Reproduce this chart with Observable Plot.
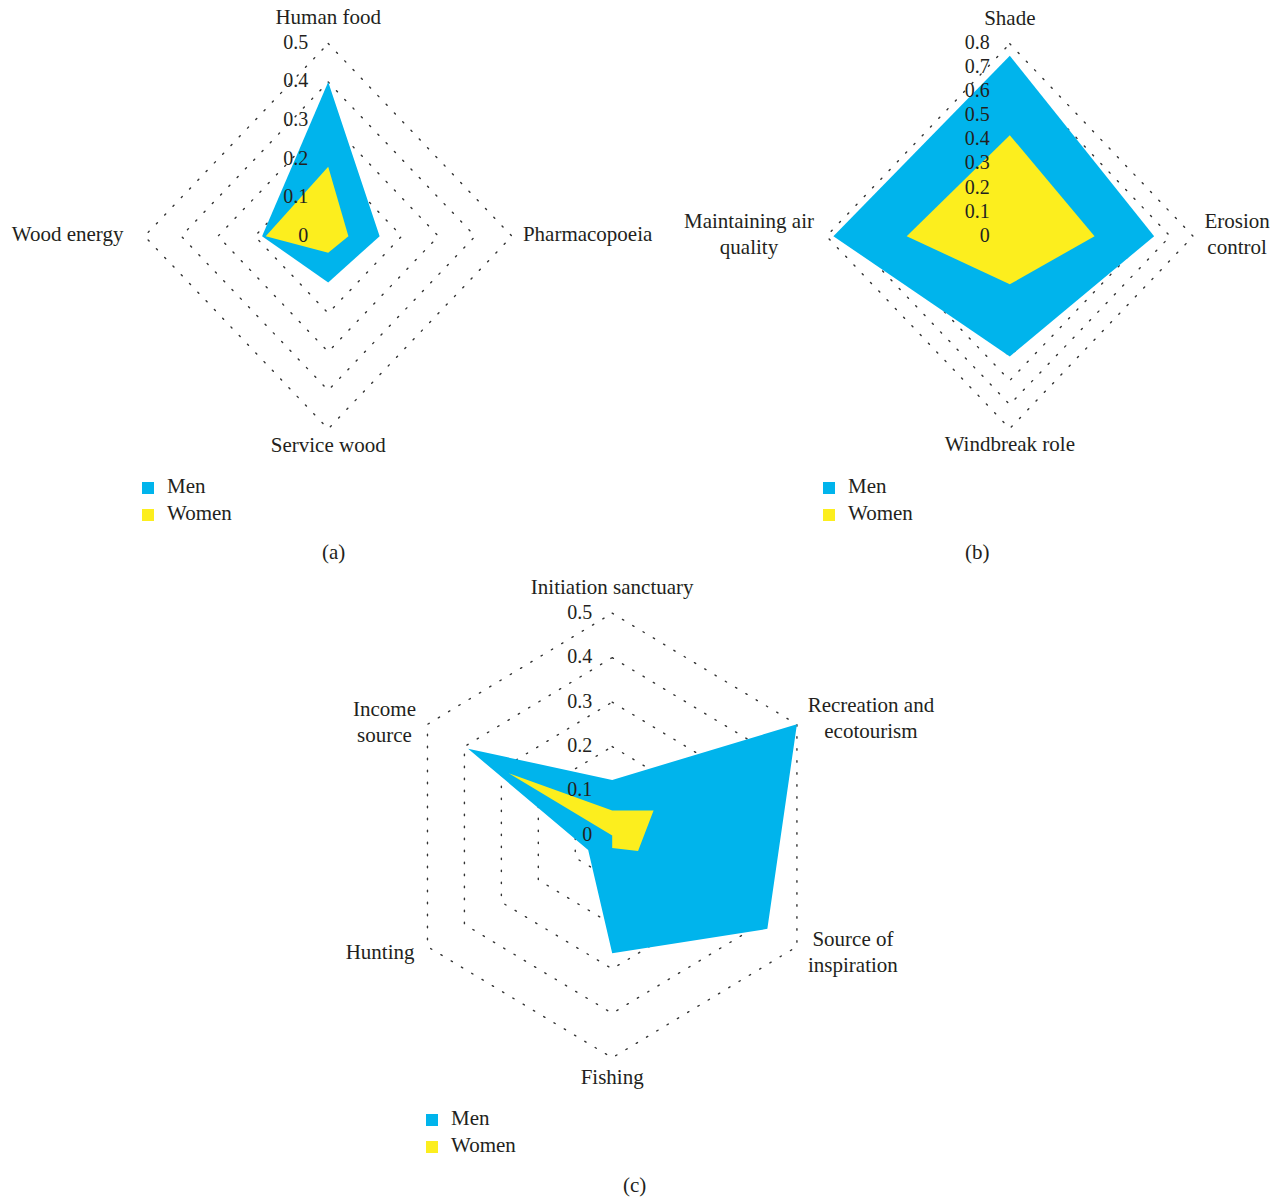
<!DOCTYPE html>
<html><head><meta charset="utf-8">
<script src="https://cdn.jsdelivr.net/npm/d3@7"></script>
<script src="https://cdn.jsdelivr.net/npm/@observablehq/plot@0.6"></script>
<style>
body{margin:0;background:#fff;font-family:"Liberation Serif",serif;color:#231f20}
#page{position:relative;width:1280px;height:1198px;overflow:hidden}
.chart{position:absolute}
.leg{position:absolute;font-size:21px;line-height:21px;white-space:nowrap}
.sw{position:absolute;width:12px;height:12px}
</style></head><body><div id="page"></div>
<script>
// ---------- data ----------
const seriesNames = ["Men", "Women"];
const seriesColors = ["#00b4ec", "#fcee1e"];

const aCategories = ["Human food", "Pharmacopoeia", "Service wood", "Wood energy"];
const aMen   = [0.40, 0.14, 0.12, 0.18];
const aWomen = [0.18, 0.055, 0.043, 0.17];
const aTicks = [0, 0.1, 0.2, 0.3, 0.4, 0.5];

const bCategories = ["Shade", "Erosion\ncontrol", "Windbreak role", "Maintaining air\nquality"];
const bMen   = [0.75, 0.63, 0.50, 0.77];
const bWomen = [0.42, 0.37, 0.20, 0.45];
const bTicks = [0, 0.1, 0.2, 0.3, 0.4, 0.5, 0.6, 0.7, 0.8];

const cCategories = ["Initiation sanctuary", "Recreation and\necotourism", "Source of\ninspiration", "Fishing", "Hunting", "Income\nsource"];
const cMen   = [0.125, 0.50, 0.42, 0.265, 0.065, 0.39];
const cWomen = [0.056, 0.112, 0.07, 0.028, 0, 0.28];
const cTicks = [0, 0.1, 0.2, 0.3, 0.4, 0.5];

// ---------- drawing ----------
const ink = "#231f20";
const page = document.getElementById("page");

function radar(cfg) {
  const n = cfg.categories.length;
  const max = cfg.ticks[cfg.ticks.length - 1];
  const ang = i => 2 * Math.PI * i / n;
  const pts = vals => vals.map((v, i) => ({x: v * Math.sin(ang(i)), y: v * Math.cos(ang(i))}));
  const rings = [];
  cfg.ticks.filter(t => t > 0).forEach(t => {
    for (let i = 0; i < n; i++) rings.push({t, x: t * Math.sin(ang(i)), y: t * Math.cos(ang(i))});
  });
  const marks = [
    Plot.line(rings, {x: "x", y: "y", z: "t", curve: "linear-closed", stroke: "#333",
      strokeWidth: 1.4, strokeDasharray: "1.4 10.6"}),
    Plot.line(pts(cfg.men), {x: "x", y: "y", curve: "linear-closed", fill: seriesColors[0], stroke: "none"}),
    Plot.line(pts(cfg.women), {x: "x", y: "y", curve: "linear-closed", fill: seriesColors[1], stroke: "none"}),
    Plot.text(cfg.ticks, {x: () => 0, y: d => d, text: d => String(d), textAnchor: "end",
      dx: -20, dy: -1, fontSize: 20, fill: ink, lineAnchor: "middle"})
  ];
  cfg.categories.forEach((c, i) => {
    const p = cfg.place[i];
    marks.push(Plot.text([c], {x: () => max * Math.sin(ang(i)), y: () => max * Math.cos(ang(i)),
      text: d => d, dx: p[0], dy: p[1] - 2.5, textAnchor: p[2], lineAnchor: "middle",
      lineHeight: 1.24, fontSize: 21, fill: ink}));
  });
  const svg = Plot.plot({
    width: cfg.width, height: cfg.height,
    marginLeft: 0, marginRight: 0, marginTop: 0, marginBottom: 0,
    x: {type: "linear", axis: null, domain: [-max, max], range: [cfg.cx - cfg.rx, cfg.cx + cfg.rx]},
    y: {type: "linear", axis: null, domain: [-max, max], range: [cfg.cy + cfg.ry, cfg.cy - cfg.ry]},
    style: {background: "transparent", overflow: "visible", maxWidth: "none",
      fontFamily: "'Liberation Serif', serif", color: ink},
    marks
  });
  const holder = document.createElement("div");
  holder.className = "chart";
  holder.style.left = cfg.left + "px";
  holder.style.top = cfg.top + "px";
  holder.appendChild(svg);
  page.appendChild(holder);
}

function legend(x, y, cap, capX, capY) {
  seriesNames.forEach((s, i) => {
    const sw = document.createElement("div");
    sw.className = "sw";
    sw.style.left = x + "px";
    sw.style.top = (y + i * 27 - 6) + "px";
    sw.style.background = seriesColors[i];
    page.appendChild(sw);
    const t = document.createElement("div");
    t.className = "leg";
    t.textContent = s;
    t.style.left = (x + 25) + "px";
    t.style.top = (y + i * 27 - 12) + "px";
    page.appendChild(t);
  });
  const c = document.createElement("div");
  c.className = "leg";
  c.textContent = cap;
  c.style.left = capX + "px";
  c.style.top = (capY - 11) + "px";
  page.appendChild(c);
}

radar({categories: aCategories, men: aMen, women: aWomen, ticks: aTicks,
  left: 0, top: 0, width: 660, height: 470, cx: 327.7, cy: 235.7, rx: 183.7, ry: 192.7,
  place: [[0, -25, "middle"], [11, -1, "start"], [0, 17, "middle"], [-21, -1, "end"]]});

radar({categories: bCategories, men: bMen, women: bWomen, ticks: bTicks,
  left: 660, top: 0, width: 620, height: 470, cx: 349.3, cy: 235.7, rx: 183.3, ry: 192.4,
  place: [[0, -25, "middle"], [44, -1, "middle"], [0, 17, "middle"], [-77.5, -1, "middle"]]});

radar({categories: cCategories, men: cMen, women: cWomen, ticks: cTicks,
  left: 0, top: 570, width: 1280, height: 530, cx: 611.7, cy: 265, rx: 213.3, ry: 222.3,
  place: [[0, -25, "middle"], [74, -5, "middle"], [56, 7, "middle"], [0, 20, "middle"],
          [-13, 7, "end"], [-43, -1, "middle"]]});

legend(142, 488, "(a)", 322, 553);
legend(823, 488, "(b)", 965, 553);
legend(426, 1120, "(c)", 623, 1186);
</script></body></html>
